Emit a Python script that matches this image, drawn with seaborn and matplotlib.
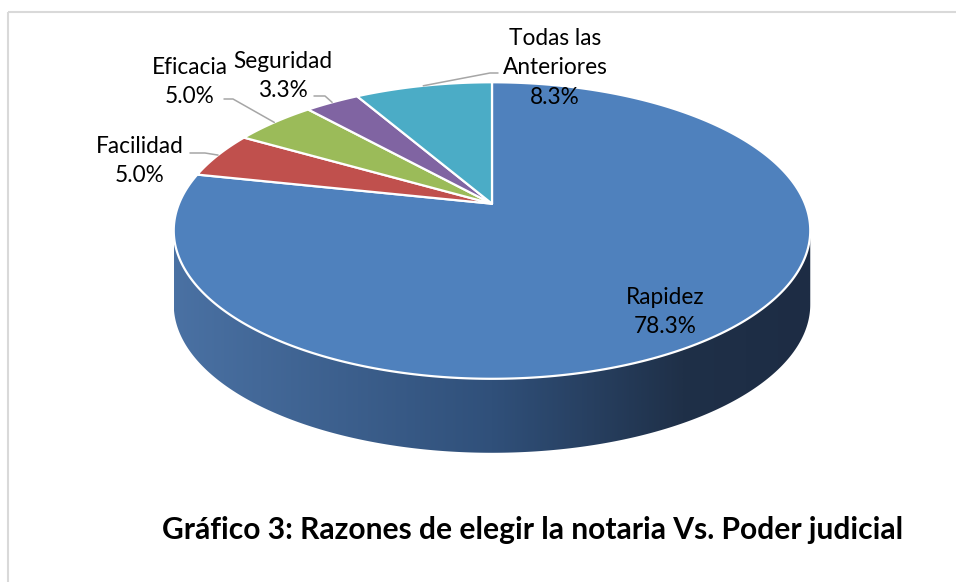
import numpy as np
import seaborn as sns
import matplotlib.pyplot as plt
from matplotlib.patches import Polygon, Rectangle
from matplotlib.colors import LinearSegmentedColormap

# data
categories = ["Rapidez", "Facilidad", "Eficacia", "Seguridad", "Todas las\nAnteriores"]
values = [78.3, 5.0, 5.0, 3.3, 8.3]
pct_labels = ["78.3%", "5.0%", "5.0%", "3.3%", "8.3%"]
title = "Gráfico 3: Razones de elegir la notaria Vs. Poder judicial"

sns.set_theme(style="white")
plt.rcParams['font.family'] = ['Lato', 'DejaVu Sans']

colors = sns.color_palette(["#4f81bd", "#c0504d", "#9bbb59", "#8064a2", "#4bacc6"])
side_cmap = LinearSegmentedColormap.from_list(
    "side", [(0, "#4a71a3"), (0.5, "#30507a"), (0.8, "#1f3048"), (1, "#1d2c44")])

# pie geometry (pixel space, perspective ellipse)
CX, Y0 = 492, 203.7
R, A, K = 313, 143.4, 0.181
DEPTH = 74


def proj(theta, depth=0.0):
    t = np.radians(theta)
    w = 1 + K * np.cos(t)
    return CX + R * np.sin(t) / w, Y0 - A * np.cos(t) / w + depth


fig = plt.figure(figsize=(9.56, 5.82), dpi=100)
ax = fig.add_axes([0, 0, 1, 1])
ax.axis("off")

# outer frame
ax.add_patch(Rectangle((8, 12), 1000, 700, fill=False, ec="#d9d9d9", lw=1.5))

# side wall (front, visible part) with left-to-right shading
t_ext = np.degrees(np.arccos(-K))
thetas = np.linspace(t_ext, 360 - t_ext, 300)
tx, ty = proj(thetas)
bx, by = proj(thetas[::-1], DEPTH)
side = Polygon(list(zip(tx, ty)) + list(zip(bx, by)), closed=True, fc="none", ec="none")
ax.add_patch(side)
grad = np.linspace(0, 1, 512)[None, :]
im = ax.imshow(grad, cmap=side_cmap, aspect="auto",
               extent=(tx.min(), tx.max(), by.max() + 2, ty.min()), interpolation="bilinear")
im.set_clip_path(side)

# top face wedges
total = sum(values)
starts = np.cumsum([0] + values[:-1]) / total * 360
spans = np.array(values) / total * 360
for start, span, col in zip(starts, spans, colors):
    arc = np.linspace(start, start + span, max(int(span * 2), 4))
    wx, wy = proj(arc)
    pts = [(CX, Y0)] + list(zip(wx, wy))
    ax.add_patch(Polygon(pts, closed=True, fc=col, ec="white", lw=1.6, joinstyle="round"))

# labels: (text center, stub end, elbow) layout
layout = [
    ((665, 312), None, None),
    ((140, 161), (190, 153), (205, 153)),
    ((190, 82), (224, 99), (233, 99)),
    ((283, 76), (314, 96), (325, 96)),
    ((555, 68), (498, 73), (490, 73)),
]
for cat, pct, start, span, (tpos, stub, elbow) in zip(categories, pct_labels, starts, spans, layout):
    ax.text(tpos[0], tpos[1], f"{cat}\n{pct}", ha="center", va="center",
            fontsize=16.3, color="black", linespacing=1.5)
    if stub is not None:
        rx, ry = proj(start + span / 2)
        ax.plot([stub[0], elbow[0], rx], [stub[1], elbow[1], ry], color="#a6a6a6", lw=1.1)

ax.text(533, 530, title, ha="center", va="center", fontsize=21.6, fontweight="bold", color="black")

ax.set_xlim(0, 956)
ax.set_ylim(582, 0)
fig.savefig("out.png", dpi=100)
